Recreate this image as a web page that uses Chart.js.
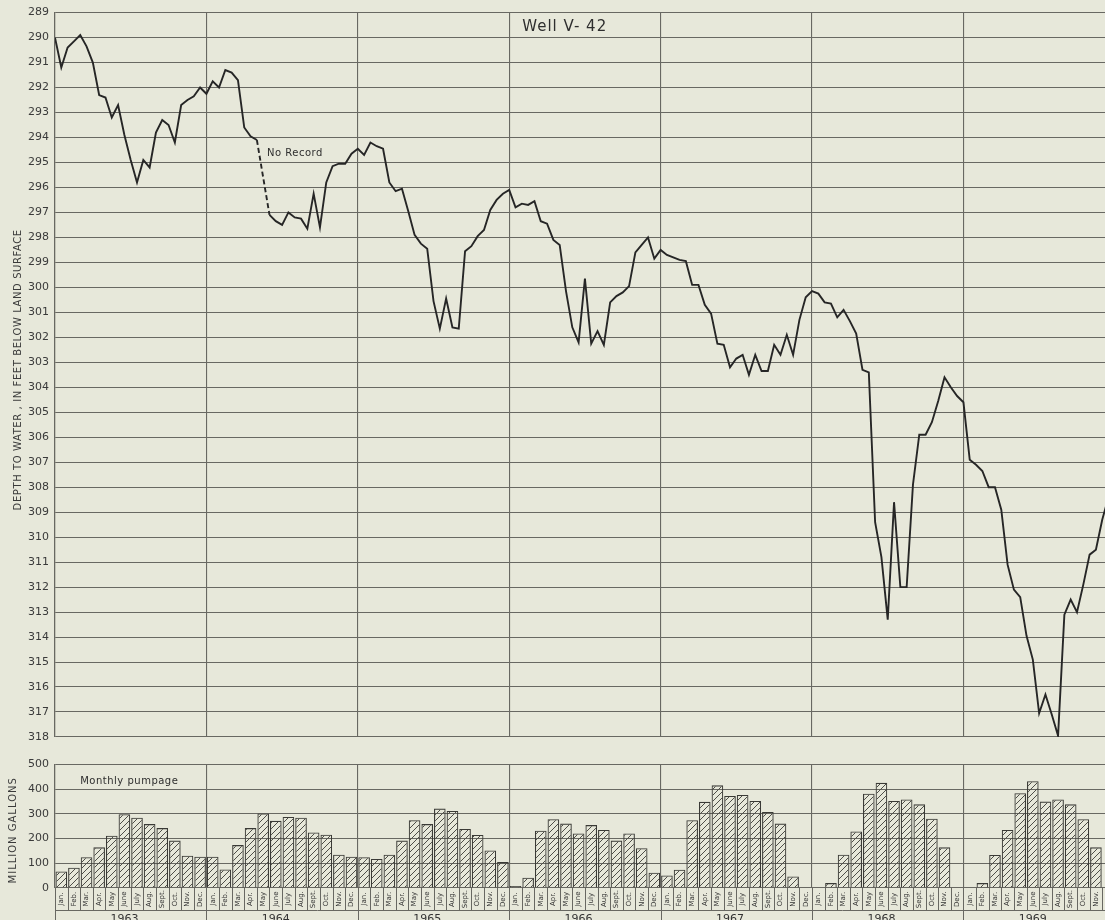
<!DOCTYPE html>
<html><head><meta charset="utf-8">
<script src="https://cdn.jsdelivr.net/npm/chart.js@4/dist/chart.umd.min.js"></script>
<style>
html,body{margin:0;padding:0;background:#e7e8da;overflow:hidden;width:1105px;height:920px;}
canvas{position:absolute;left:0;display:block;}
#c1{top:0;} #c2{top:752px;}
</style></head><body>
<canvas id="c1" width="1105" height="752"></canvas>
<canvas id="c2" width="1105" height="168"></canvas>
<script>
// ---------- data ----------
const years = ['1963', '1964', '1965', '1966', '1967', '1968', '1969'];
const monthLabels = ['Jan.', 'Feb.', 'Mar.', 'Apr.', 'May', 'June', 'July', 'Aug.', 'Sept.', 'Oct.', 'Nov.', 'Dec.'];
const visibleMonths = 83.22;

// Depth to water (ft below land surface), two readings per month (null = no record)
const depth1963 = [290.0, 291.2, 290.4, 290.15, 289.9, 290.35, 291.0, 292.3, 292.4, 293.2, 292.7, 293.9, 294.9, 295.8, 294.9, 295.2, 293.8, 293.3, 293.5, 294.2, 292.7, 292.5, 292.35, 292.0];
const depth1964 = [292.25, 291.75, 292.0, 291.3, 291.4, 291.7, 293.6, 293.95, 294.1, null, 297.1, 297.35, 297.5, 297.0, 297.2, 297.25, 297.65, 296.25, 297.6, 295.8, 295.15, 295.05, 295.05, 294.65];
const depth1965 = [294.45, 294.7, 294.2, 294.35, 294.45, 295.8, 296.15, 296.05, 296.95, 297.9, 298.25, 298.45, 300.55, 301.65, 300.45, 301.6, 301.65, 298.55, 298.35, 297.95, 297.7, 296.9, 296.5, 296.25];
const depth1966 = [296.1, 296.8, 296.65, 296.7, 296.55, 297.35, 297.45, 298.1, 298.3, 300.15, 301.6, 302.2, 299.65, 302.25, 301.75, 302.3, 300.6, 300.35, 300.2, 299.95, 298.6, 298.3, 298.0, 298.85];
const depth1967 = [298.5, 298.7, 298.8, 298.9, 298.95, 299.9, 299.9, 300.7, 301.05, 302.25, 302.3, 303.2, 302.85, 302.7, 303.5, 302.7, 303.35, 303.35, 302.3, 302.7, 301.9, 302.7, 301.3, 300.4];
const depth1968 = [300.15, 300.25, 300.6, 300.65, 301.2, 300.9, 301.35, 301.85, 303.3, 303.4, 309.4, 310.8, 313.3, 308.6, 312.0, 312.0, 307.9, 305.9, 305.9, 305.4, 304.55, 303.6, 304.0, 304.35];
const depth1969 = [304.6, 306.9, 307.1, 307.35, 308.0, 308.0, 308.9, 311.1, 312.1, 312.4, 313.95, 314.9, 317.05, 316.3, 317.1, 317.95, 313.1, 312.5, 313.0, 311.9, 310.7, 310.5, 309.3, 308.4];

// Monthly pumpage (million gallons)
const pump1963 = [67, 82, 125, 165, 212, 299, 285, 259, 243, 192, 131, 127];
const pump1964 = [127, 75, 174, 243, 302, 272, 288, 285, 225, 216, 135, 127];
const pump1965 = [125, 118, 135, 192, 275, 259, 322, 312, 239, 215, 152, 105];
const pump1966 = [8, 42, 232, 279, 261, 221, 255, 235, 192, 221, 161, 62];
const pump1967 = [51, 74, 275, 349, 416, 373, 377, 353, 308, 261, 47, 0];
const pump1968 = [0, 20, 135, 229, 382, 426, 353, 359, 339, 281, 165, 0];
const pump1969 = [0, 20, 134, 235, 384, 433, 350, 359, 339, 279, 165, 0];

// ---------- build ----------
const depthByYear = [depth1963, depth1964, depth1965, depth1966, depth1967, depth1968, depth1969];
const pumpByYear = [pump1963, pump1964, pump1965, pump1966, pump1967, pump1968, pump1969];
const depthPoints = [];
depthByYear.forEach((arr, yi) => arr.forEach((v, k) => depthPoints.push({x: yi * 12 + k * 0.5, y: v})));
const pumpPoints = [];
pumpByYear.forEach((arr, yi) => arr.forEach((v, m) => pumpPoints.push({x: yi * 12 + m + 0.5, y: v})));

const ink = '#262626';
const gridColor = '#686862';
const FONT = '"DejaVu Sans", sans-serif';

function xScale() {
  return {
    type: 'linear', min: 0, max: visibleMonths, offset: false,
    ticks: { display: false, stepSize: 12, includeBounds: false },
    grid: { color: gridColor, lineWidth: 1.1, drawTicks: false, offset: false },
    border: { display: false }
  };
}

const hatch = (() => {
  const s = 6;
  const c = document.createElement('canvas'); c.width = s; c.height = s;
  const g = c.getContext('2d');
  g.strokeStyle = '#4e4e48'; g.lineWidth = 1;
  g.beginPath();
  g.moveTo(-1, s + 1); g.lineTo(s + 1, -1);
  g.moveTo(-1, 1); g.lineTo(1, -1);
  g.moveTo(s - 1, s + 1); g.lineTo(s + 1, s - 1);
  g.stroke();
  return document.getElementById('c2').getContext('2d').createPattern(c, 'repeat');
})();

function vText(ctx, text, x, y, font, spacing) {
  ctx.save();
  ctx.translate(x, y);
  ctx.rotate(-Math.PI / 2);
  ctx.font = font;
  try { ctx.letterSpacing = spacing; } catch (e) {}
  ctx.fillStyle = '#3a3a3a';
  ctx.textAlign = 'center';
  ctx.textBaseline = 'middle';
  ctx.fillText(text, 0, 0);
  ctx.restore();
}

const topDecor = {
  id: 'topDecor',
  afterDraw(chart) {
    const ctx = chart.ctx, a = chart.chartArea, xs = chart.scales.x, ys = chart.scales.y;
    ctx.save();
    ctx.fillStyle = '#2e2e2e';
    ctx.font = '15px ' + FONT;
    try { ctx.letterSpacing = '1px'; } catch (e) {}
    ctx.textAlign = 'center'; ctx.textBaseline = 'middle';
    ctx.fillText('Well V- 42', xs.getPixelForValue(40.4), ys.getPixelForValue(289.6));
    ctx.font = '10px ' + FONT;
    try { ctx.letterSpacing = '0.5px'; } catch (e) {}
    ctx.textAlign = 'left';
    ctx.fillText('No Record', xs.getPixelForValue(16.8), ys.getPixelForValue(294.65));
    ctx.restore();
    vText(ctx, 'DEPTH TO WATER , IN FEET BELOW LAND SURFACE', 18, (a.top + a.bottom) / 2 - 5, '10px ' + FONT, '0.6px');
  }
};

const botDecor = {
  id: 'botDecor',
  afterDraw(chart) {
    const ctx = chart.ctx, a = chart.chartArea, xs = chart.scales.x;
    const cellBottom = a.bottom + 22.3;
    const H = chart.height;
    ctx.save();
    ctx.strokeStyle = gridColor;
    ctx.lineWidth = 1;
    ctx.beginPath();
    for (let m = 0; m <= 84; m++) {
      const px = Math.round(xs.getPixelForValue(m)) + 0.5;
      if (px > chart.width + 2) break;
      ctx.moveTo(px, a.bottom);
      ctx.lineTo(px, m % 12 === 0 ? H : cellBottom);
    }
    ctx.moveTo(a.left, Math.round(cellBottom) + 0.5);
    ctx.lineTo(chart.width, Math.round(cellBottom) + 0.5);
    ctx.stroke();
    // month labels
    ctx.fillStyle = '#333';
    ctx.textAlign = 'center';
    for (let yi = 0; yi < years.length; yi++) {
      ctx.font = '7px ' + FONT;
      ctx.textBaseline = 'middle';
      for (let m = 0; m < 12; m++) {
        const v = yi * 12 + m + 0.5;
        if (v > visibleMonths) break;
        const px = xs.getPixelForValue(v);
        ctx.save();
        ctx.translate(px, (a.bottom + cellBottom) / 2);
        ctx.rotate(-Math.PI / 2);
        ctx.fillText(monthLabels[m], 0, 0);
        ctx.restore();
      }
      ctx.font = '11px ' + FONT;
      ctx.textBaseline = 'top';
      ctx.fillText(years[yi], xs.getPixelForValue(yi * 12 + 5.5), cellBottom + 3);
    }
    ctx.font = '10px ' + FONT;
    try { ctx.letterSpacing = '0.5px'; } catch (e) {}
    ctx.textAlign = 'left';
    ctx.textBaseline = 'middle';
    ctx.fillStyle = '#2e2e2e';
    ctx.fillText('Monthly pumpage', xs.getPixelForValue(2.0), chart.scales.y.getPixelForValue(430));
    ctx.restore();
    vText(ctx, 'MILLION GALLONS', 13, (a.top + a.bottom) / 2 + 4, '10px ' + FONT, '1px');
  }
};

Chart.defaults.font.family = FONT;
Chart.defaults.color = '#3a3a3a';
Chart.defaults.animation = false;

new Chart(document.getElementById('c1'), {
  type: 'line',
  data: {
    datasets: [{
      data: depthPoints,
      borderColor: ink,
      borderWidth: 1.9,
      pointRadius: 0,
      tension: 0,
      spanGaps: true,
      segment: {
        borderDash: ctx => (ctx.p0.skip || ctx.p1.skip || (ctx.p1.parsed.x - ctx.p0.parsed.x) > 0.75) ? [5, 3] : undefined
      }
    }]
  },
  options: {
    responsive: false,
    layout: { padding: { top: 11, bottom: 15, left: 0, right: 0 } },
    plugins: { legend: { display: false }, tooltip: { enabled: false } },
    scales: {
      x: xScale(),
      y: {
        type: 'linear', reverse: true, min: 289, max: 318,
        afterFit(s) { s.width = 55; },
        ticks: { stepSize: 1, padding: 6, font: { size: 11 }, color: '#3a3a3a' },
        grid: { color: gridColor, lineWidth: 1.1, drawTicks: false },
        border: { display: true, color: gridColor, width: 1.2 }
      }
    }
  },
  plugins: [topDecor]
});

new Chart(document.getElementById('c2'), {
  type: 'bar',
  data: {
    datasets: [{
      data: pumpPoints,
      backgroundColor: hatch,
      borderColor: '#3a3a36',
      borderWidth: 1.1,
      borderSkipped: 'bottom',
      barPercentage: 0.92,
      categoryPercentage: 1
    }]
  },
  options: {
    responsive: false,
    layout: { padding: { top: 11, bottom: 32, left: 0, right: 0 } },
    plugins: { legend: { display: false }, tooltip: { enabled: false } },
    scales: {
      x: xScale(),
      y: {
        type: 'linear', min: 0, max: 500,
        afterFit(s) { s.width = 55; },
        ticks: { stepSize: 100, padding: 6, font: { size: 11 }, color: '#3a3a3a' },
        grid: { color: gridColor, lineWidth: 1.1, drawTicks: false },
        border: { display: true, color: gridColor, width: 1.2 }
      }
    }
  },
  plugins: [botDecor]
});
</script>
</body></html>
